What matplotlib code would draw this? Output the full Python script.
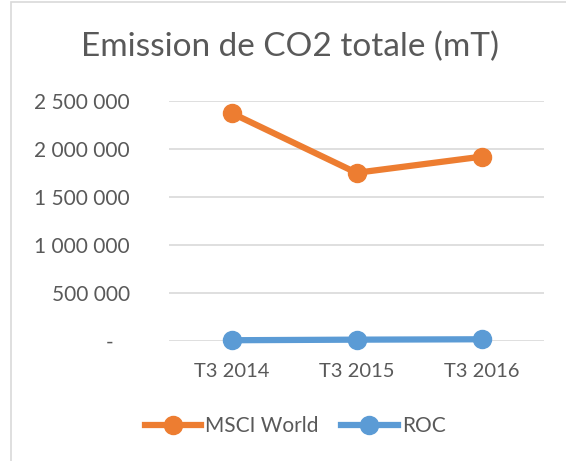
import matplotlib
matplotlib.use("Agg")
import matplotlib.pyplot as plt
from matplotlib.patches import Rectangle

categories = ["T3 2014", "T3 2015", "T3 2016"]
msci_world = [2375000, 1752000, 1920000]
roc = [8000, 14000, 18000]
yticks = [0, 500000, 1000000, 1500000, 2000000, 2500000]
title = "Emission de CO2 totale (mT)"

plt.rcParams['font.family'] = ['Lato', 'DejaVu Sans']
TXT = "#595959"
ORANGE = "#ED7D31"
BLUE = "#5B9BD5"
GRID = "#D9D9D9"

fig = plt.figure(figsize=(5.66, 4.61), dpi=100)
ax = fig.add_axes([169/566, 1-341/461, (544-169)/566, (341-101)/461])

x = list(range(len(categories)))
ax.plot(x, msci_world, color=ORANGE, lw=4.5, marker='o', ms=13, label="MSCI World", clip_on=False, zorder=3)
ax.plot(x, roc, color=BLUE, lw=4.5, marker='o', ms=13, label="ROC", clip_on=False, zorder=3)

ax.set_xlim(-0.5, len(categories)-0.5)
ax.set_ylim(0, 2500000)
ax.set_xticks(x)
ax.set_xticklabels(categories)
ax.set_yticks(yticks)
def fmt(v):
    if v == 0:
        return "-   "
    return f"{v:,.0f}".replace(",", " ")
ax.set_yticklabels([fmt(v) for v in yticks])
ax.tick_params(axis='y', length=0, labelsize=15, colors=TXT, pad=28)
ax.tick_params(axis='x', length=0, labelsize=14.5, colors=TXT, pad=16)
ax.grid(axis='y', color=GRID, lw=1.2)
ax.set_axisbelow(True)
for s in ax.spines.values():
    s.set_visible(False)

fig.text(290/566, 1-47/461, title, ha='center', va='center', fontsize=24, color=TXT)

leg = fig.legend(loc='center', bbox_to_anchor=(295/566, 1-426/461), ncol=2, frameon=False,
                 fontsize=15, handlelength=2.7, columnspacing=1.1, handletextpad=0.2, labelcolor=TXT)

fig.add_artist(Rectangle((11/566, -0.1), 2, 1.1 - 2/461, transform=fig.transFigure,
                         fill=False, edgecolor=GRID, lw=1.2))

fig.savefig("out.png", dpi=100)
